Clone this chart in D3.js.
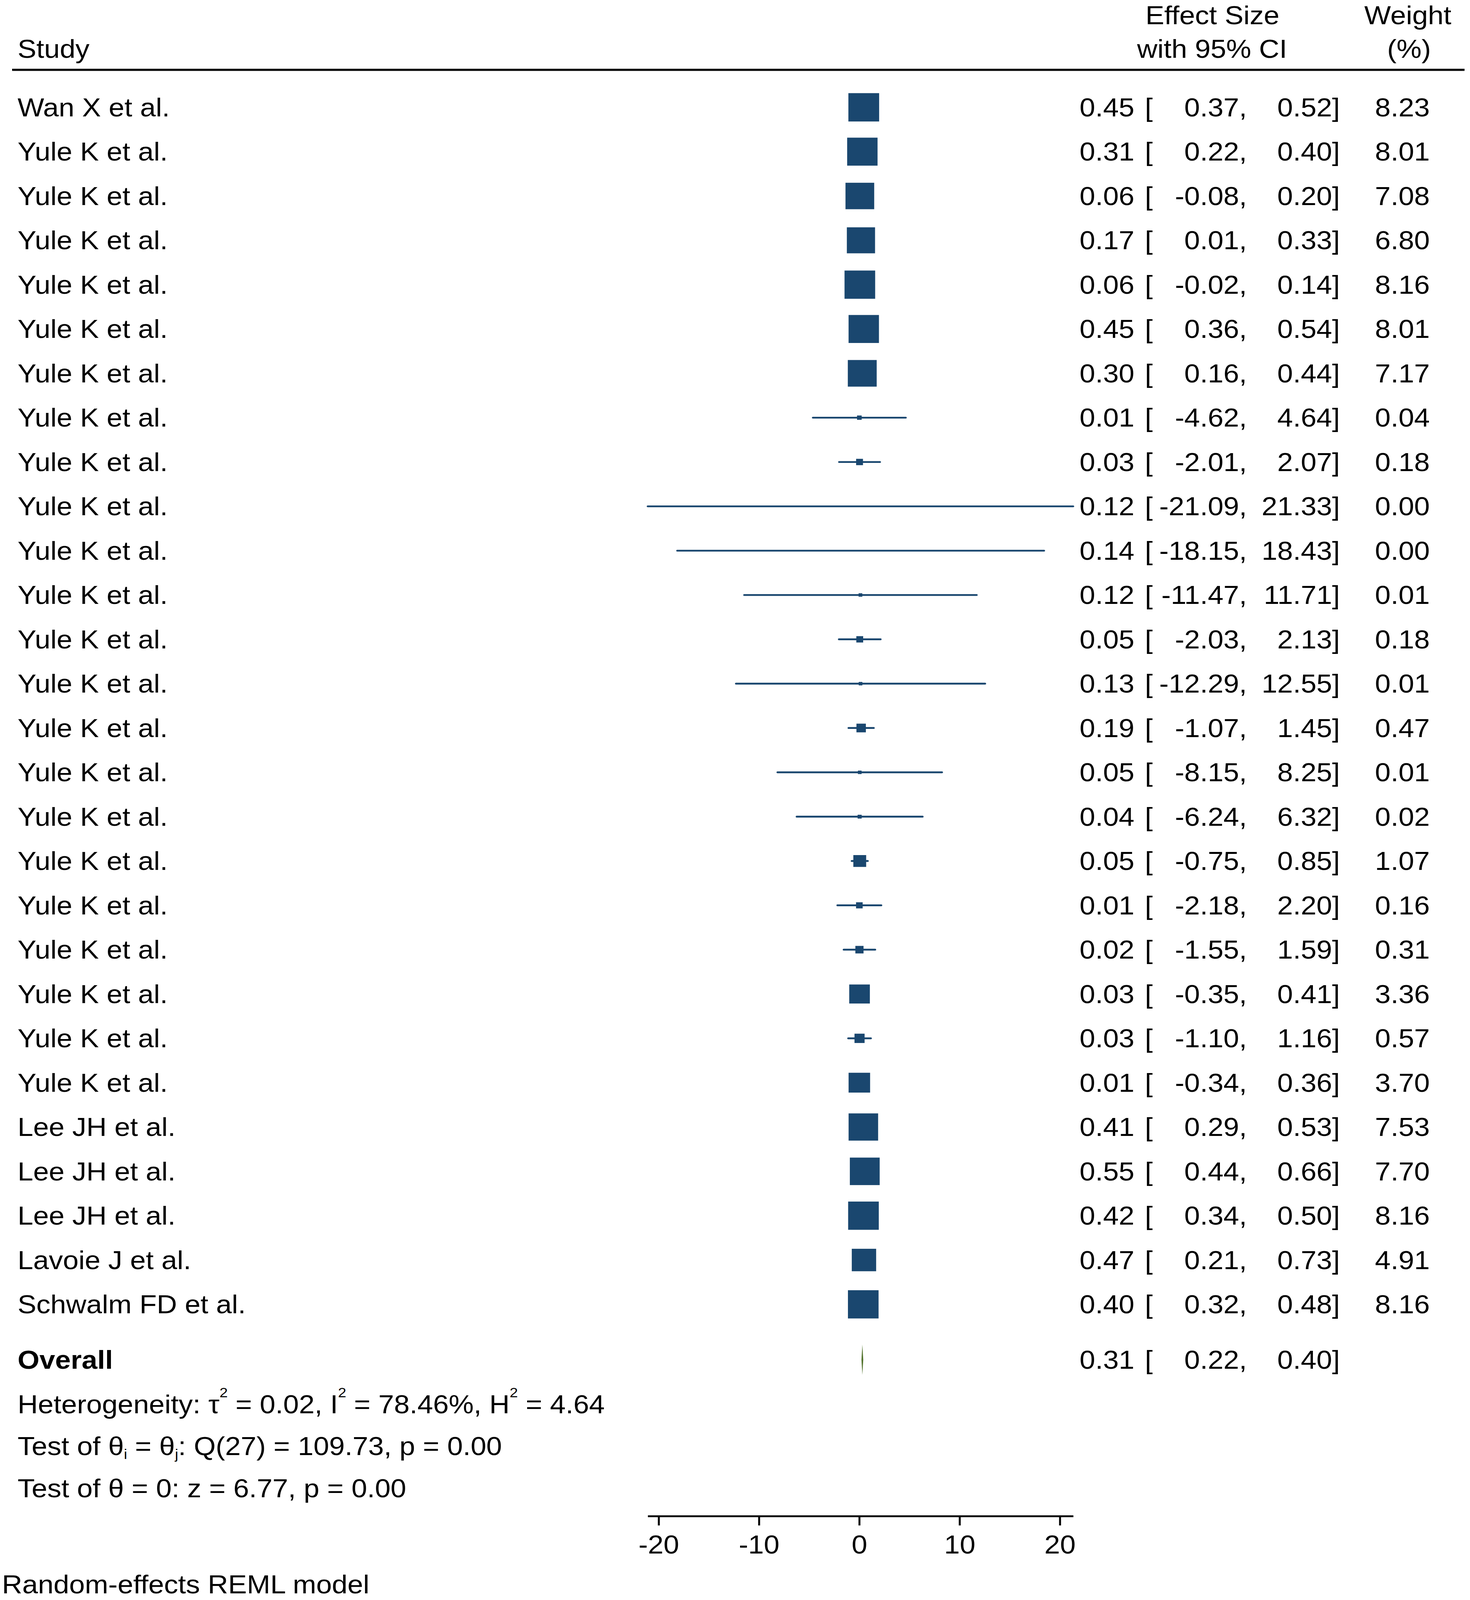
<!DOCTYPE html>
<html>
<head>
<meta charset="utf-8">
<script src="https://cdn.jsdelivr.net/npm/d3@7"></script>
<style>
    html, body { margin: 0; padding: 0; background: #fff; overflow: hidden; }
    svg { display: block; }
    text { font-family: 'Liberation Sans', Arial, sans-serif; fill: #000; }
</style>
</head>
<body>
<svg id="grafico"></svg>
<script>
const estudos = [
    'Wan X et al.',
    'Yule K et al.', 'Yule K et al.', 'Yule K et al.', 'Yule K et al.', 'Yule K et al.',
    'Yule K et al.', 'Yule K et al.', 'Yule K et al.', 'Yule K et al.', 'Yule K et al.',
    'Yule K et al.', 'Yule K et al.', 'Yule K et al.', 'Yule K et al.', 'Yule K et al.',
    'Yule K et al.', 'Yule K et al.', 'Yule K et al.', 'Yule K et al.', 'Yule K et al.',
    'Yule K et al.', 'Yule K et al.',
    'Lee JH et al.', 'Lee JH et al.', 'Lee JH et al.',
    'Lavoie J et al.', 'Schwalm FD et al.'
];
const efeitos = [0.45, 0.31, 0.06, 0.17, 0.06, 0.45, 0.30, 0.01, 0.03, 0.12, 0.14, 0.12, 0.05, 0.13,
    0.19, 0.05, 0.04, 0.05, 0.01, 0.02, 0.03, 0.03, 0.01, 0.41, 0.55, 0.42, 0.47, 0.40];
const inferiores = [0.37, 0.22, -0.08, 0.01, -0.02, 0.36, 0.16, -4.62, -2.01, -21.09, -18.15, -11.47, -2.03, -12.29,
    -1.07, -8.15, -6.24, -0.75, -2.18, -1.55, -0.35, -1.10, -0.34, 0.29, 0.44, 0.34, 0.21, 0.32];
const superiores = [0.52, 0.40, 0.20, 0.33, 0.14, 0.54, 0.44, 4.64, 2.07, 21.33, 18.43, 11.71, 2.13, 12.55,
    1.45, 8.25, 6.32, 0.85, 2.20, 1.59, 0.41, 1.16, 0.36, 0.53, 0.66, 0.50, 0.73, 0.48];
const pesos = [8.23, 8.01, 7.08, 6.80, 8.16, 8.01, 7.17, 0.04, 0.18, 0.00, 0.00, 0.01, 0.18, 0.01,
    0.47, 0.01, 0.02, 1.07, 0.16, 0.31, 3.36, 0.57, 3.70, 7.53, 7.70, 8.16, 4.91, 8.16];
const geral = { efeito: 0.31, inferior: 0.22, superior: 0.40 };
const ticksX = [-20, -10, 0, 10, 20];

const largura = 3762, altura = 4443;
const fonte = 72;
const azul = '#1a476f', verde = '#55752f';

// a janela pode ser mais baixa que o grafico: o viewBox ajusta tudo a ela
let svg = d3.select('#grafico')
    .attr('width', window.innerWidth || largura)
    .attr('height', window.innerHeight || altura)
    .attr('viewBox', '0 0 ' + largura + ' ' + altura)
    .attr('preserveAspectRatio', 'none');

let dados = estudos.map((d, i) => ({
    estudo: d, efeito: efeitos[i], inferior: inferiores[i], superior: superiores[i], peso: pesos[i], linha: i
}));

let fnX = d3.scaleLinear()
    .domain([d3.min(inferiores), d3.max(superiores)])
    .range([1657.6, 2746.5]);

let fnY = d3.scaleLinear()
    .domain([0, estudos.length - 1])
    .range([298, 3622]);

// lado do quadrado ~ raiz do peso (mais o contorno)
let fnLado = d3.scaleSqrt()
    .domain([0, 8.16])
    .range([0, 71.4]);

// hifen em vez do sinal de menos unicode
let fmt = (v) => d3.format('.2f')(v).replace('\u2212', '-');

// cabecalho
svg.append('text').attr('x', 45).attr('y', 161).style('font-size', fonte + 'px').text('Study');
svg.append('text').attr('x', 3103).attr('y', 67).style('font-size', fonte + 'px').style('text-anchor', 'middle').text('Effect Size');
svg.append('text').attr('x', 3102).attr('y', 161).style('font-size', fonte + 'px').style('text-anchor', 'middle').text('with 95% CI');
svg.append('text').attr('x', 3603).attr('y', 67).style('font-size', fonte + 'px').style('text-anchor', 'middle').text('Weight');
svg.append('text').attr('x', 3606).attr('y', 161).style('font-size', fonte + 'px').style('text-anchor', 'middle').text('(%)');
svg.append('line')
    .attr('x1', 31).attr('x2', 3748)
    .attr('y1', 194).attr('y2', 194)
    .attr('stroke', '#000').attr('stroke-width', 6);

// intervalos
svg.append('g').selectAll('line')
    .data(dados)
    .enter()
    .append('line')
    .attr('x1', (d) => fnX(d.inferior))
    .attr('x2', (d) => fnX(d.superior))
    .attr('y1', (d) => fnY(d.linha))
    .attr('y2', (d) => fnY(d.linha))
    .attr('stroke', azul)
    .attr('stroke-width', 5)
    .attr('stroke-linecap', 'round');

// quadrados
svg.append('g').selectAll('rect')
    .data(dados)
    .enter()
    .append('rect')
    .attr('x', (d) => fnX(d.efeito) - fnLado(d.peso) / 2)
    .attr('y', (d) => fnY(d.linha) - fnLado(d.peso) / 2)
    .attr('width', (d) => fnLado(d.peso))
    .attr('height', (d) => fnLado(d.peso))
    .attr('fill', azul)
    .attr('stroke', azul)
    .attr('stroke-width', 7);

// colunas de texto
let linhas = svg.append('g').selectAll('g')
    .data(dados)
    .enter()
    .append('g')
    .attr('transform', (d) => 'translate(0,' + (fnY(d.linha) + 25) + ')')
    .style('font-size', fonte + 'px');

linhas.append('text').attr('x', 45).text((d) => d.estudo);
linhas.append('text').attr('x', 2903).style('text-anchor', 'end').text((d) => fmt(d.efeito));
linhas.append('text').attr('x', 2930).text('[');
linhas.append('text').attr('x', 3191).style('text-anchor', 'end').text((d) => fmt(d.inferior) + ',');
linhas.append('text').attr('x', 3429).style('text-anchor', 'end').text((d) => fmt(d.superior) + ']');
linhas.append('text').attr('x', 3659).style('text-anchor', 'end').text((d) => fmt(d.peso));

// efeito global
let yGeral = fnY(estudos.length + 0.25);
svg.append('path')
    .attr('d', 'M' + fnX(geral.inferior) + ',' + yGeral +
        'L' + fnX(geral.efeito) + ',' + (yGeral - 42) +
        'L' + fnX(geral.superior) + ',' + yGeral +
        'L' + fnX(geral.efeito) + ',' + (yGeral + 42) + 'Z')
    .attr('fill', verde);

let linhaGeral = svg.append('g')
    .attr('transform', 'translate(0,' + (yGeral + 25) + ')')
    .style('font-size', fonte + 'px');
linhaGeral.append('text').attr('x', 45).style('font-weight', 'bold').text('Overall');
linhaGeral.append('text').attr('x', 2903).style('text-anchor', 'end').text(fmt(geral.efeito));
linhaGeral.append('text').attr('x', 2930).text('[');
linhaGeral.append('text').attr('x', 3191).style('text-anchor', 'end').text(fmt(geral.inferior) + ',');
linhaGeral.append('text').attr('x', 3429).style('text-anchor', 'end').text(fmt(geral.superior) + ']');

// estatisticas de heterogeneidade
let het = svg.append('text')
    .attr('x', 45)
    .attr('y', fnY(estudos.length + 1.25) + 25)
    .style('font-size', fonte + 'px');
het.append('tspan').text('Heterogeneity: τ');
het.append('tspan').attr('dy', -44).style('font-size', '38px').text('2');
het.append('tspan').attr('dy', 44).text(' = 0.02, I');
het.append('tspan').attr('dy', -44).style('font-size', '38px').text('2');
het.append('tspan').attr('dy', 44).text(' = 78.46%, H');
het.append('tspan').attr('dy', -44).style('font-size', '38px').text('2');
het.append('tspan').attr('dy', 44).text(' = 4.64');

let teste1 = svg.append('text')
    .attr('x', 45)
    .attr('y', fnY(estudos.length + 2.2) + 25)
    .style('font-size', fonte + 'px');
teste1.append('tspan').text('Test of θ');
teste1.append('tspan').attr('dy', 10).style('font-size', '38px').text('i');
teste1.append('tspan').attr('dy', -10).text(' = θ');
teste1.append('tspan').attr('dy', 10).style('font-size', '38px').text('j');
teste1.append('tspan').attr('dy', -10).text(': Q(27) = 109.73, p = 0.00');

svg.append('text')
    .attr('x', 45)
    .attr('y', fnY(estudos.length + 3.15) + 25)
    .style('font-size', fonte + 'px')
    .text('Test of θ = 0: z = 6.77, p = 0.00');

// eixo x
let eixoX = d3.axisBottom(fnX)
    .tickValues(ticksX)
    .tickSize(26)
    .tickSizeOuter(0)
    .tickPadding(27)
    .tickFormat((d) => String(d));

let gEixo = svg.append('g')
    .attr('transform', 'translate(0,4210)')
    .call(eixoX);
gEixo.select('.domain').attr('stroke-width', 5);
gEixo.selectAll('.tick line').attr('stroke-width', 5);
gEixo.selectAll('.tick text')
    .style('font-family', "'Liberation Sans', Arial, sans-serif")
    .style('font-size', fonte + 'px')
    .attr('fill', '#000');

svg.append('text')
    .attr('x', 5)
    .attr('y', 4425)
    .style('font-size', fonte + 'px')
    .text('Random-effects REML model');
</script>
</body>
</html>
